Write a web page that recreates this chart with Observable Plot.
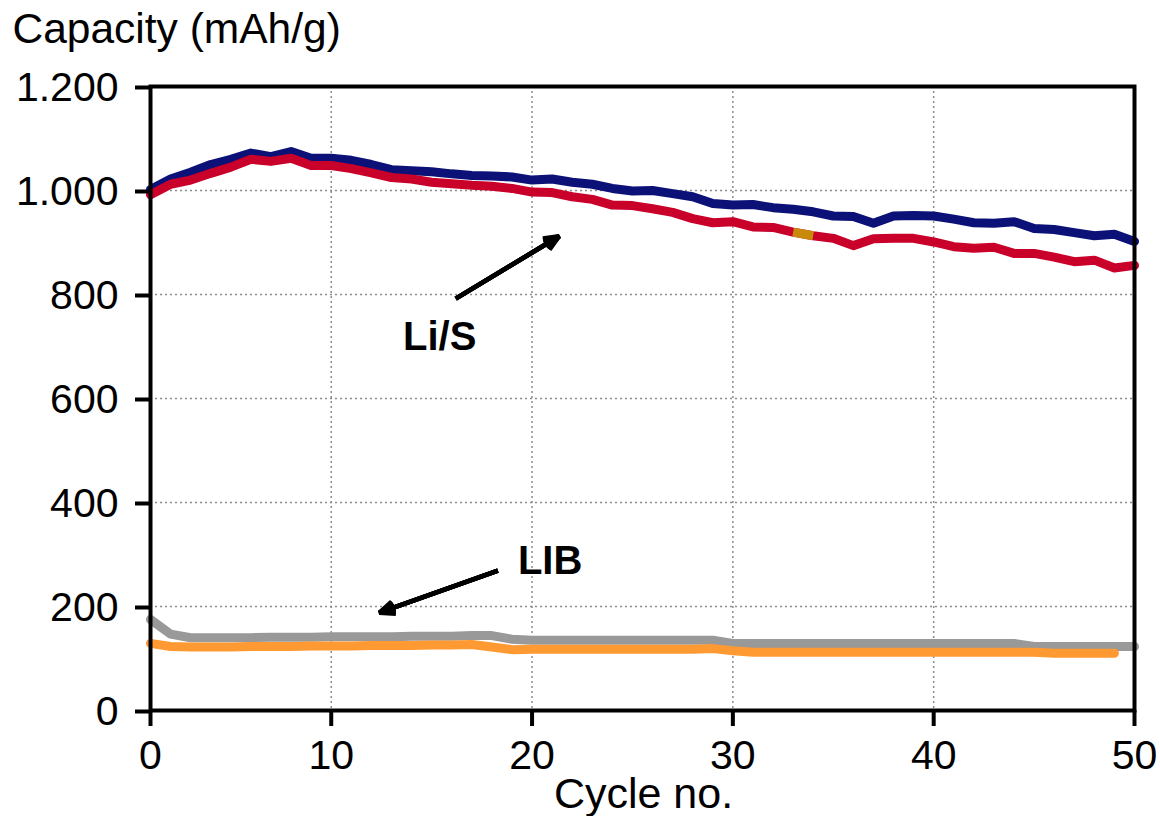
<!DOCTYPE html>
<html>
<head>
<meta charset="utf-8">
<script src="https://cdn.jsdelivr.net/npm/d3@7"></script>
<script src="https://cdn.jsdelivr.net/npm/@observablehq/plot@0.6"></script>
<style>
  html, body { margin: 0; padding: 0; background: #ffffff; }
  #chart { width: 1160px; height: 816px; }
</style>
</head>
<body>
<div id="chart"></div>
<script>
// ---- Data ----
const cycles = [1,2,3,4,5,6,7,8,9,10,11,12,13,14,15,16,17,18,19,20,21,22,23,24,25,26,27,28,29,30,31,32,33,34,35,36,37,38,39,40,41,42,43,44,45,46,47,48,49,50];

const liSBlue = [1002,1022,1035,1050,1060,1072,1065,1075,1062,1062,1058,1050,1040,1038,1036,1032,1029,1028,1026,1020,1022,1016,1012,1004,999,1000,994,988,975,972,973,967,964,959,951,950,937,951,952,951,945,938,937,940,927,925,919,913,916,902];

const liSRed = [992,1012,1020,1033,1045,1060,1056,1062,1048,1048,1042,1034,1025,1022,1016,1013,1010,1008,1004,997,996,988,983,972,971,965,958,946,938,940,930,929,920,913,908,894,907,908,908,901,892,889,891,879,879,872,863,866,851,856];

const liSHighlightCycles = [33, 34];
const liSHighlight = [920, 913];

const libGray = [175,147,140,140,140,140,141,141,141,142,142,142,142,143,143,143,144,144,137,135,135,135,135,135,135,135,135,135,135,129,129,129,129,129,129,129,129,129,129,129,129,129,129,129,123,123,123,123,123,123];

const libOrangeCycles = cycles.slice(0, 49);
const libOrange = [129,123,122,122,122,123,123,123,124,124,124,125,125,125,126,126,127,122,117,118,118,118,118,118,118,118,118,118,119,115,112,112,112,112,112,112,112,112,112,112,112,112,112,112,112,110,110,110,110];

// Tick values and labels (first category is labelled "0")
const xTickValues = [1, 10, 20, 30, 40, 50];
const xTickLabels = ["0", "10", "20", "30", "40", "50"];
const yTickValues = [0, 200, 400, 600, 800, 1000, 1200];
const yTickLabels = ["0", "200", "400", "600", "800", "1.000", "1.200"];

// Annotations (in data units: cycle, mAh/g)
const seriesLabels = ["Li/S", "LIB"];
const labelCycles = [15.4, 20.9];
const labelValues = [717, 287];
const arrowFromCycles = [16.2, 18.3];
const arrowFromValues = [792, 269];
const arrowToCycles = [21.35, 12.4];
const arrowToValues = [912, 188];

// ---- Tables ----
const toRows = (xs, ys) => xs.map((c, i) => ({cycle: c, value: ys[i]}));
const blueRows = toRows(cycles, liSBlue);
const redRows = toRows(cycles, liSRed);
const highlightRows = toRows(liSHighlightCycles, liSHighlight);
const grayRows = toRows(cycles, libGray);
const orangeRows = toRows(libOrangeCycles, libOrange);

const font = "'Liberation Sans', Arial, Helvetica, sans-serif";
const lineStyle = {x: "cycle", y: "value", strokeWidth: 9, strokeLinejoin: "round", strokeLinecap: "round"};
const headAngles = [10, 22, 34, 46];

const chart = Plot.plot({
  width: 1160,
  height: 816,
  marginLeft: 150,
  marginRight: 26,
  marginTop: 86,
  marginBottom: 106,
  style: {fontFamily: font, fontSize: "41px", color: "#000", background: "#fff", overflow: "visible"},
  x: {type: "linear", domain: [1, 50]},
  y: {type: "linear", domain: [0, 1200]},
  marks: [
    Plot.gridY(yTickValues.slice(1, -1), {stroke: "#8c8c8c", strokeOpacity: 1, strokeWidth: 1.5, strokeDasharray: "2,3"}),
    Plot.gridX(xTickValues.slice(1, -1), {stroke: "#8c8c8c", strokeOpacity: 1, strokeWidth: 1.5, strokeDasharray: "2,3"}),
    Plot.line(grayRows, {...lineStyle, stroke: "#999999"}),
    Plot.line(orangeRows, {...lineStyle, stroke: "#ff9a33"}),
    Plot.line(blueRows, {...lineStyle, stroke: "#0b1177"}),
    Plot.line(redRows, {...lineStyle, stroke: "#c8002a"}),
    Plot.line(highlightRows, {...lineStyle, stroke: "#c98a0c", strokeLinecap: "butt"}),
    Plot.frame({stroke: "#000", strokeWidth: 4}),
    Plot.axisY({
      ticks: yTickValues,
      tickFormat: d => yTickLabels[yTickValues.indexOf(d)],
      tickSize: 15, tickPadding: 17, strokeWidth: 4, label: null,
      fontSize: 41, dy: 1
    }),
    Plot.axisX({
      ticks: xTickValues,
      tickFormat: d => xTickLabels[xTickValues.indexOf(d)],
      tickSize: 16, tickPadding: 13, strokeWidth: 4, label: null,
      fontSize: 41
    }),
    Plot.text(["Capacity (mAh/g)"], {frameAnchor: "top-left", textAnchor: "start", lineAnchor: "bottom", dx: -138, dy: -44, fontSize: 42.5, fill: "#000"}),
    Plot.text(["Cycle no."], {frameAnchor: "bottom", textAnchor: "middle", lineAnchor: "bottom", dx: 1, dy: 97, fontSize: 43, fill: "#000"}),
    Plot.text(seriesLabels, {x: labelCycles, y: labelValues, text: d => d, fontSize: 40, fontWeight: "bold", fill: "#000", textAnchor: "middle", lineAnchor: "middle"}),
    ...headAngles.map(a => Plot.arrow(seriesLabels, {
      x1: arrowFromCycles, y1: arrowFromValues,
      x2: arrowToCycles, y2: arrowToValues,
      stroke: "#000", strokeWidth: 4.5, headLength: 5.5, headAngle: a,
      strokeLinejoin: "miter", strokeLinecap: "butt"
    }))
  ]
});

document.getElementById("chart").appendChild(chart);
</script>
</body>
</html>
